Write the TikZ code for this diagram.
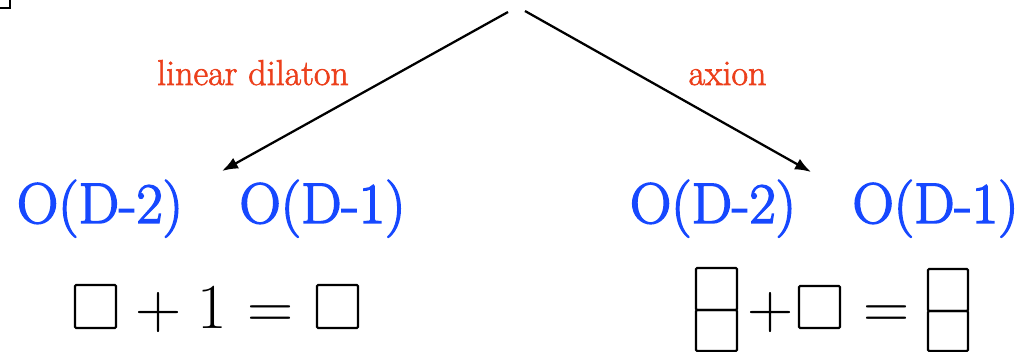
\documentclass[tikz,border=0pt]{standalone}
\usepackage{fontspec}
\newfontfamily\heavyrm[FakeBold=2.5]{Latin Modern Roman}
\newfontfamily\midrm[FakeBold=1.8]{Latin Modern Roman}
\usetikzlibrary{arrows.meta}
\definecolor{dilatonred}{RGB}{236,64,28}
\definecolor{groupblue}{RGB}{22,72,255}
\tikzset{every picture/.style={line width=0.75pt}}
\tikzset{
  branch/.style={line width=1.7pt,-{Latex[length=12pt,width=9pt]}},
  cell/.style={draw,line width=1.6pt,rounded corners=0.8pt},
  grouplabel/.style={anchor=base,inner sep=0pt,text=groupblue,font=\heavyrm\fontsize{43}{50}\selectfont},
  branchlabel/.style={anchor=base,inner sep=0pt,text=dilatonred,font=\midrm\fontsize{27}{32}\selectfont},
  eqsign/.style={anchor=base,inner sep=0pt,font=\fontsize{48}{56}\selectfont}
}

\begin{document}
\begin{tikzpicture}[x=0.75pt,y=0.75pt,yscale=-1,xscale=1]
	\useasboundingbox (0,0) rectangle (1020,352);
	
	%Corner of box cut by the page edge
	\draw [line width=1.6pt] (0,8) -- (10,8) -- (10,0) ;
	
	%Branch points
	\coordinate (rootL) at (508,12);
	\coordinate (rootR) at (525,11);
	\coordinate (tipL) at (222,171);
	\coordinate (tipR) at (811,172);
	
	%Branches
	\draw [branch] (rootL) -- (tipL) ;
	\draw [branch] (rootR) -- (tipR) ;
	
	% Text Node
	\node [branchlabel] (dilaton) at (253,85) {linear dilaton};
	% Text Node
	\node [branchlabel] (axion) at (727.5,85) {axion};
	
	% Text Node
	\node [grouplabel] (ldm2) at (100,223) {O(D-2)};
	% Text Node
	\node [grouplabel] (ldm1) at (322.5,223) {O(D-1)};
	% Text Node
	\node [grouplabel] (rdm2) at (713,223) {O(D-2)};
	% Text Node
	\node [grouplabel] (rdm1) at (935.5,223) {O(D-1)};
	
	%Left tensor product
	\draw [cell] (75,285) rectangle (116,328) ;
	\node [eqsign] (lplus) at (158.5,329) {+};
	\node [eqsign] (lone) at (212.5,329) {1};
	\node [eqsign] (leq) at (271,329) {=};
	\draw [cell] (317,285) rectangle (358,328) ;
	
	%Right tensor product
	\draw [cell] (696,268) rectangle (737,310) ;
	\draw [cell] (696,310) rectangle (737,351) ;
	\node [eqsign] (rplus) at (770.5,329) {+};
	\draw [cell] (799,286) rectangle (840,328) ;
	\node [eqsign] (req) at (886.5,329) {=};
	\draw [cell] (928,269) rectangle (968,311) ;
	\draw [cell] (928,311) rectangle (968,351) ;
	
\end{tikzpicture}
\end{document}
